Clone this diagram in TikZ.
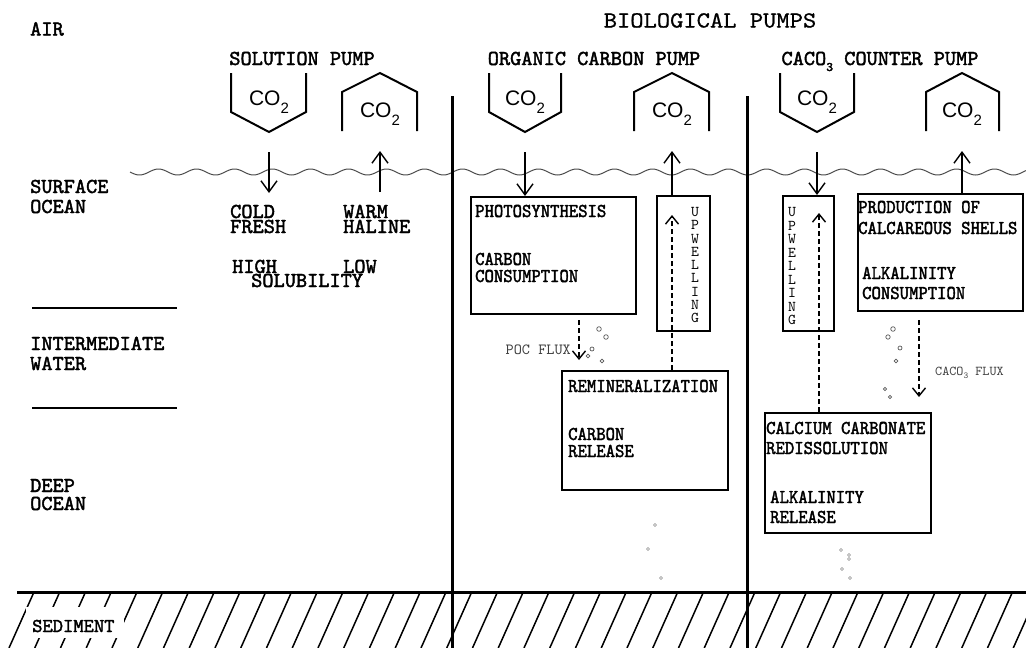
\documentclass[tikz,border=0pt]{standalone}
\usepackage{fontspec}
\usetikzlibrary{arrows.meta}
\newfontfamily\labf{lmmono10-regular.otf}[FakeBold=2]
\newfontfamily\boxfnt{lmmono10-regular.otf}[FakeStretch=0.91,FakeBold=2]
\newfontfamily\headf{lmmono10-regular.otf}[FakeStretch=1.1,FakeBold=0.8]
\newfontfamily\thinf{lmmono10-regular.otf}
\newfontfamily\cof{Liberation Sans}
\newcommand\COtwo{CO\raisebox{-8pt}{\fontsize{15}{15}\selectfont 2}}
\begin{document}
\begin{tikzpicture}[x=1pt,y=-1pt,
  lab/.style={font=\labf\fontsize{21.3}{21.3}\selectfont, inner sep=0pt, anchor=base west},
  head/.style={font=\labf\fontsize{21.3}{21.3}\selectfont, inner sep=0pt, anchor=base},
  bt/.style={font=\boxfnt\fontsize{19.6}{19.6}\selectfont, inner sep=0pt, anchor=base west},
  box/.style={draw, line width=2.2pt, anchor=north west, inner sep=0pt},
  cup/.style={line width=2pt, line join=miter},
  co/.style={font=\cof\fontsize{21}{21}\selectfont, inner sep=0pt, anchor=base},
  sol/.style={line width=1.4pt, -{Straight Barb[length=11pt,width=16pt,line width=1.4pt]}},
  dsh/.style={line width=1.6pt, dash pattern=on 5pt off 3pt, -{Straight Barb[length=8pt,width=13pt,line width=1.4pt]}},
  upl/.style={font=\thinf\fontsize{15}{15}\selectfont, inner sep=0pt, anchor=center},
  small/.style={font=\thinf\fontsize{15.5}{15.5}\selectfont, inner sep=0pt, text=black!75},
  bub/.style={draw=black!65, line width=0.7pt},
  bubl/.style={draw=black!45, line width=0.6pt},
  hatch/.style={line width=1.5pt},
  wave/.style={draw=black!70, line width=1pt}
]
\useasboundingbox (0,0) rectangle (1026,648);
\fill[white] (0,0) rectangle (1026,648);

% headings
\node[font=\headf\fontsize{23}{23}\selectfont, inner sep=0pt, anchor=base] (bio) at (710,27.5) {BIOLOGICAL PUMPS};
\node[lab] (air) at (30,35.5) {AIR};
\node[head] (solp) at (302,65) {SOLUTION PUMP};
\node[head] (orgp) at (594,65) {ORGANIC CARBON PUMP};
\node[head] (cacp) at (880,65) {CACO\raisebox{-6pt}{\fontsize{13}{13}\selectfont 3}\ COUNTER PUMP};

% cups
\draw[cup] (231,73) -- (231,112) -- (269,132) -- (306,112) -- (306,73);
\draw[cup] (342,131) -- (342,92) -- (380,73) -- (417,92) -- (417,131);
\draw[cup] (489,73) -- (489,112) -- (525,132) -- (561,112) -- (561,73);
\draw[cup] (634,131) -- (634,92) -- (672,73) -- (709,92) -- (709,131);
\draw[cup] (780,73) -- (780,112) -- (817,132) -- (854,112) -- (854,73);
\draw[cup] (926,131) -- (926,92) -- (962,73) -- (999,92) -- (999,131);
\node[co] (co1) at (269,105) {\COtwo};
\node[co] (co2) at (380,117) {\COtwo};
\node[co] (co3) at (525,105) {\COtwo};
\node[co] (co4) at (672,117) {\COtwo};
\node[co] (co5) at (817,105) {\COtwo};
\node[co] (co6) at (962,117) {\COtwo};

% wave
\draw[wave] plot[domain=130:1026, samples=500, smooth] (\x, {172+3*sin(9.4737*(\x-130))});

% dividers
\draw[line width=3pt] (452,96) -- (452,648);
\draw[line width=3pt] (747,96) -- (747,648);

% left labels
\node[lab] (surf1) at (30,193) {SURFACE};
\node[lab] (surf2) at (30,213) {OCEAN};
\draw[line width=2pt] (32,308) -- (177,308);
\node[lab] (int1) at (30,350) {INTERMEDIATE};
\node[lab] (int2) at (30,370) {WATER};
\draw[line width=2pt] (32,408) -- (177,408);
\node[lab] (deep1) at (30,492) {DEEP};
\node[lab] (deep2) at (30,510) {OCEAN};

% solution pump labels
\node[lab] (cold) at (230,218) {COLD};
\node[lab] (fresh) at (230,233) {FRESH};
\node[lab] (warm) at (343,218) {WARM};
\node[lab] (hal) at (343,233) {HALINE};
\node[lab] (high) at (232,273) {HIGH};
\node[lab] (low) at (343,273) {LOW};
\node[lab] (solu) at (251,287) {SOLUBILITY};

% boxes
\node[box, minimum width=165pt, minimum height=117pt] (photo) at (470,196) {};
\node[box, minimum width=53pt, minimum height=135pt] (upw1) at (656,195) {};
\node[box, minimum width=166pt, minimum height=119pt] (remin) at (561,370) {};
\node[box, minimum width=51pt, minimum height=135pt] (upw2) at (782,195) {};
\node[box, minimum width=165pt, minimum height=117pt] (prod) at (857,193) {};
\node[box, minimum width=166pt, minimum height=120pt] (calc) at (764,412) {};

\node[bt] (t1) at (475,217) {PHOTOSYNTHESIS};
\node[bt] (t2) at (475,265) {CARBON};
\node[bt] (t3) at (475,282) {CONSUMPTION};
\node[bt] (t4) at (568,392) {REMINERALIZATION};
\node[bt] (t5) at (568,440) {CARBON};
\node[bt] (t6) at (568,457) {RELEASE};
\node[bt] (t7) at (858,213) {PRODUCTION OF};
\node[bt] (t8) at (858,234) {CALCAREOUS SHELLS};
\node[bt] (t9) at (862,279) {ALKALINITY};
\node[bt] (t10) at (862,299) {CONSUMPTION};
\node[bt] (t11) at (766,434) {CALCIUM CARBONATE};
\node[bt] (t12) at (766,454) {REDISSOLUTION};
\node[bt] (t13) at (770,503) {ALKALINITY};
\node[bt] (t14) at (770,523) {RELEASE};

% upwelling letters
\foreach \l [count=\i from 0] in {U,P,W,E,L,L,I,N,G} {
  \node[upl] (ua\i) at (695,{212+13.25*\i}) {\l};
  \node[upl] (ub\i) at (792,{212+13.5*\i}) {\l};
}

% solid arrows
\coordinate (s1a) at (269,152); \coordinate (s1b) at (269,193);
\draw[sol] (s1a) -- (s1b);
\coordinate (s2a) at (380,192); \coordinate (s2b) at (380,151);
\draw[sol] (s2a) -- (s2b);
\coordinate (o1a) at (525,152);
\draw[sol] (o1a) -- (o1a |- photo.north);
\coordinate (o2b) at (672,151);
\draw[sol] (upw1.north -| o2b) -- (o2b);
\coordinate (c1a) at (817,152);
\draw[sol] (c1a) -- (c1a |- upw2.north);
\coordinate (c2b) at (962,151);
\draw[sol] (prod.north -| c2b) -- (c2b);

% dashed arrows
\coordinate (p0) at (579,320); \coordinate (p1) at (579,360);
\draw[dsh] (p0) -- (p1);
\coordinate (u1t) at (672,215);
\draw[dsh] (remin.north -| u1t) -- (u1t);
\coordinate (u2t) at (819,213);
\draw[dsh] (calc.north -| u2t) -- (u2t);
\coordinate (f0) at (919,320); \coordinate (f1) at (919,397);
\draw[dsh] (f0) -- (f1);

\node[small, anchor=base east] (poc) at (571,354) {POC FLUX};
\node[small, anchor=base west, font=\thinf\fontsize{13.5}{13.5}\selectfont] (cflux) at (935,375) {CACO\raisebox{-3pt}{\fontsize{9}{9}\selectfont 3} FLUX};

% bubbles
\foreach \p/\r in {{(599,329)}/2.3, {(606,337)}/2.3, {(592,349)}/2, {(588,356)}/1.8, {(602,361)}/1.8,
                   {(893,329)}/2.3, {(888,337)}/2.2, {(900,348)}/2, {(896,361)}/1.8, {(885,389)}/1.6, {(890,397)}/1.6}
  \draw[bub] \p circle (\r pt);
\foreach \p in {(655,525), (648,549), (661,578), (841,550), (849,555), (849,559), (842,569), (850,578)}
  \draw[bubl] \p circle (1.5pt);

% sediment
\begin{scope}
\clip (0,592) rectangle (1026,648);
\foreach \k in {0,...,41} {
  \draw[hatch] ({34+25.75*\k},592) -- ({9+25.75*\k},648);
}
\end{scope}
\draw[line width=3pt] (17,592) -- (1026,592);
\draw[line width=3pt] (452,592) -- (452,648);
\draw[line width=3pt] (747,592) -- (747,648);
\node[fill=white, minimum width=98pt, minimum height=31pt, anchor=north west, inner sep=0pt] (sedbg) at (26,607) {};
\node[lab, font=\labf\fontsize{19.6}{19.6}\selectfont] (sed) at (32,632) {SEDIMENT};
\end{tikzpicture}
\end{document}
